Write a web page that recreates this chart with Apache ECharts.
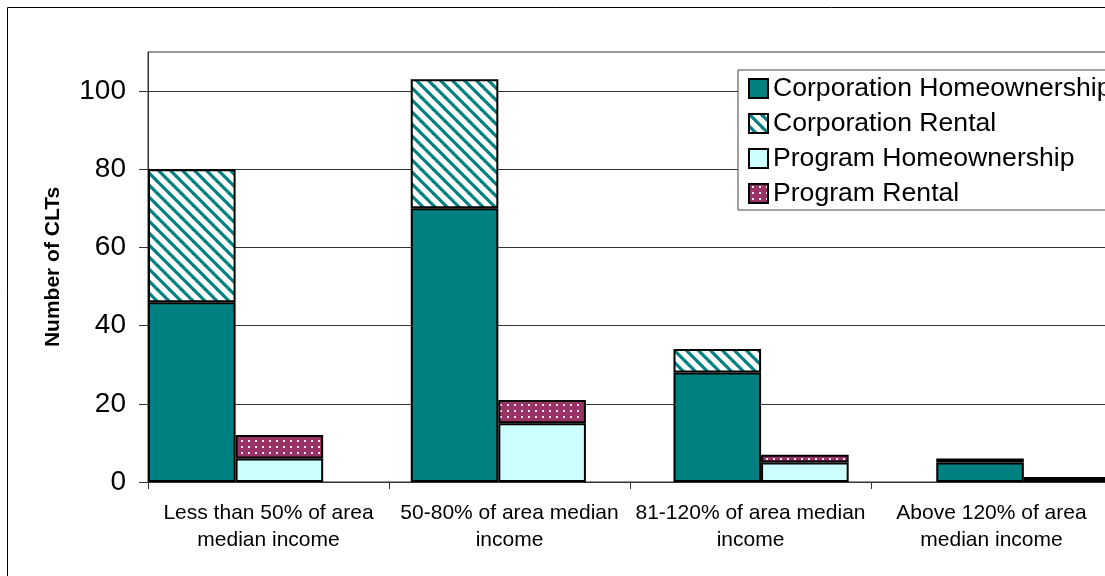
<!DOCTYPE html>
<html>
<head>
<meta charset="utf-8">
<script src="https://cdn.jsdelivr.net/npm/echarts@6/dist/echarts.min.js"></script>
<style>
html,body{margin:0;padding:0;background:#fff;}
#c{width:1105px;height:576px;}
</style>
</head>
<body>
<div id="c"></div>
<script>
// ---- data ----
var categories = [
  'Less than 50% of area\nmedian income',
  '50-80% of area median\nincome',
  '81-120% of area median\nincome',
  'Above 120% of area\nmedian income'
];
var seriesNames = ['Corporation Homeownership', 'Corporation Rental', 'Program Homeownership', 'Program Rental'];
var corpHomeownership = [46, 70, 28, 5];
var corpRental = [34, 33, 6, 1];
var progHomeownership = [6, 15, 5, 1];
var progRental = [6, 6, 2, 0];
var yTicks = [0, 20, 40, 60, 80, 100];
var yMax = 110;

var FONT = 'Arial, "Liberation Sans", sans-serif';

// ---- patterns ----
function stripePattern() {
  var c = document.createElement('canvas');
  c.width = 12; c.height = 12;
  var g = c.getContext('2d');
  g.fillStyle = '#ffffff';
  g.fillRect(0, 0, 12, 12);
  g.strokeStyle = '#008080';
  g.lineWidth = 3.2;
  [-12, 0, 12].forEach(function (k) {
    g.beginPath();
    g.moveTo(k - 2, -2);
    g.lineTo(k + 14, 14);
    g.stroke();
  });
  return c;
}
function dotPattern() {
  var c = document.createElement('canvas');
  c.width = 7; c.height = 6;
  var g = c.getContext('2d');
  g.fillStyle = '#993366';
  g.fillRect(0, 0, 7, 6);
  g.fillStyle = '#f4e4ee';
  g.fillRect(3, 2, 2, 2);
  return c;
}

var chart = echarts.init(document.getElementById('c'), null, {renderer: 'canvas'});

var barBorder = {borderColor: '#000', borderWidth: 2};

var option = {
  animation: false,
  backgroundColor: '#fff',
  graphic: [{
    type: 'rect',
    shape: {x: 7.5, y: 7.5, width: 2000, height: 2000},
    style: {fill: null, stroke: '#000', lineWidth: 1},
    z: -10, silent: true
  }],
  grid: [
    {left: 148, top: 52, width: 964, height: 430, show: true, borderColor: '#333', borderWidth: 1,
     backgroundColor: '#fff', containLabel: false, outerBoundsMode: 'none'},
    {left: 148, top: 52, width: 1051, height: 430, containLabel: false, outerBoundsMode: 'none'}
  ],
  legend: {
    data: seriesNames,
    orient: 'vertical',
    left: 738, top: 70,
    padding: [5, 10, 3, 10],
    itemWidth: 19, itemHeight: 19, itemGap: 8,
    icon: 'rect',
    backgroundColor: '#fff',
    borderColor: '#444', borderWidth: 1,
    textStyle: {fontSize: 26.6, lineHeight: 26, color: '#000', fontFamily: FONT},
    z: 10
  },
  xAxis: [
    {
      type: 'category', gridIndex: 0, data: categories,
      axisLine: {lineStyle: {color: '#333', width: 1}},
      axisTick: {show: true, length: 7, lineStyle: {color: '#333'}},
      axisLabel: {interval: 0, fontSize: 21, lineHeight: 27, color: '#000', fontFamily: FONT, margin: 18}
    },
    {
      type: 'category', gridIndex: 1, data: categories, show: false
    }
  ],
  yAxis: [
    {
      type: 'value', gridIndex: 0, min: 0, max: yMax, interval: 20,
      name: 'Number of CLTs', nameLocation: 'middle', nameGap: 84,
      nameTextStyle: {fontSize: 21, fontWeight: 'bold', color: '#000', fontFamily: FONT},
      axisLine: {show: true, lineStyle: {color: '#333', width: 1}},
      axisTick: {show: true, length: 9, lineStyle: {color: '#333'}, customValues: yTicks},
      axisLabel: {fontSize: 28, color: '#000', fontFamily: FONT, margin: 22, customValues: yTicks},
      splitLine: {show: true, lineStyle: {color: '#333', width: 1}}
    },
    {
      type: 'value', gridIndex: 1, min: 0, max: yMax, show: false, splitLine: {show: false}
    }
  ],
  series: [
    {
      name: seriesNames[0], type: 'bar', stack: 'corp', xAxisIndex: 1, yAxisIndex: 1,
      data: corpHomeownership, barGap: '0%', barCategoryGap: '0%',
      itemStyle: Object.assign({color: '#008080'}, barBorder)
    },
    {
      name: seriesNames[1], type: 'bar', stack: 'corp', xAxisIndex: 1, yAxisIndex: 1,
      data: corpRental, barGap: '0%', barCategoryGap: '0%',
      itemStyle: Object.assign({color: {image: stripePattern(), repeat: 'repeat'}}, barBorder)
    },
    {
      name: seriesNames[2], type: 'bar', stack: 'prog', xAxisIndex: 1, yAxisIndex: 1,
      data: progHomeownership, barGap: '0%', barCategoryGap: '0%',
      itemStyle: Object.assign({color: '#CCFFFF'}, barBorder)
    },
    {
      name: seriesNames[3], type: 'bar', stack: 'prog', xAxisIndex: 1, yAxisIndex: 1,
      data: progRental, barGap: '0%', barCategoryGap: '0%',
      itemStyle: Object.assign({color: {image: dotPattern(), repeat: 'repeat'}}, barBorder)
    },
    {
      name: 'gap', type: 'bar', stack: 'gap', xAxisIndex: 1, yAxisIndex: 1,
      data: ['-', '-', '-', '-'], barGap: '0%', barCategoryGap: '0%',
      itemStyle: {color: 'transparent'}
    }
  ]
};
chart.setOption(option);
</script>
</body>
</html>
